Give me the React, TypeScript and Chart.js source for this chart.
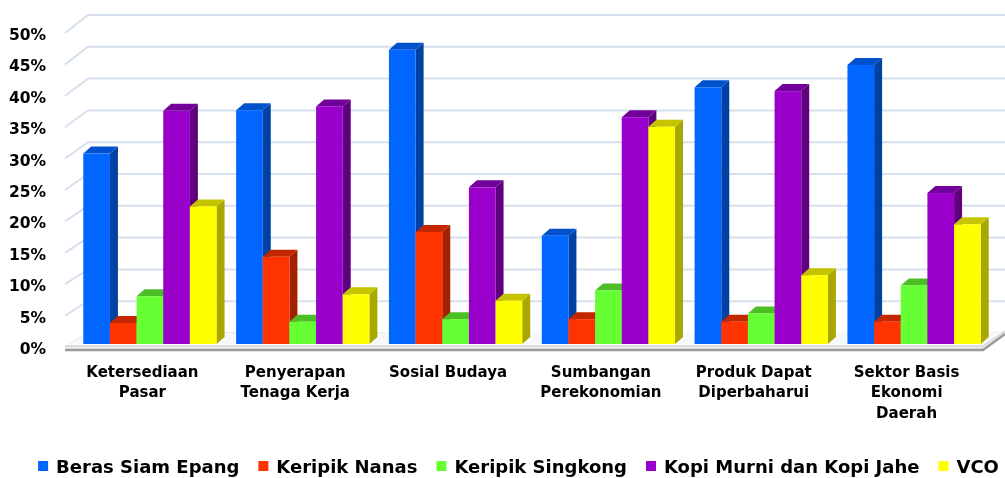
import React, { useEffect, useRef } from "react";
import { Chart, registerables } from "chart.js";

Chart.register(...registerables);

// ---------- data ----------
const categories: (string | string[])[] = [
  ["Ketersediaan", "Pasar"],
  ["Penyerapan", "Tenaga Kerja"],
  "Sosial Budaya",
  ["Sumbangan", "Perekonomian"],
  ["Produk Dapat", "Diperbaharui"],
  ["Sektor Basis", "Ekonomi", "Daerah"],
];

const seriesNames = [
  "Beras Siam Epang",
  "Keripik Nanas",
  "Keripik Singkong",
  "Kopi Murni dan Kopi Jahe",
  "VCO",
];

const berasSiamEpang = [29.9, 36.7, 46.2, 17.0, 40.3, 43.8];
const keripikNanas = [3.3, 13.7, 17.6, 3.9, 3.5, 3.5];
const keripikSingkong = [7.5, 3.5, 3.9, 8.4, 4.8, 9.2];
const kopiMurniJahe = [36.6, 37.3, 24.6, 35.6, 39.7, 23.7];
const vco = [21.6, 7.8, 6.8, 34.1, 10.8, 18.8];

const seriesValues = [berasSiamEpang, keripikNanas, keripikSingkong, kopiMurniJahe, vco];

const Y_MIN = 0;
const Y_MAX = 50;
const Y_STEP = 5;

// ---------- styles ----------
const FRONT = ["#0066FF", "#FF3300", "#66FF33", "#9900CC", "#FFFF00"];
const SIDE = ["#0041A3", "#A32000", "#42A621", "#5F007F", "#A8A800"];
const TOP = ["#0052CC", "#C22700", "#4DBF26", "#72009A", "#C4C400"];
const GRID_COLOR = "#d6e0ee";
const FONT_FAMILY = "'DejaVu Sans', sans-serif";

// 3D geometry (pixels / ratios)
const BAR_SHIFT_X = 7.5;
const BAR_BASE_DY = -6;
const BAR_SCALE = 1.0143;
const BAR_DEPTH_X = 8;
const BAR_DEPTH_Y = -7;
const WALL_DX = 22;
const WALL_DY = -17;
const WALL_SCALE = 1.0127;
const FRONT_END_DY = -3;

const threeDPlugin = {
  id: "threeD",
  beforeDatasetsDraw(chart: any) {
    const { ctx, chartArea: ca } = chart;
    const y = chart.scales.y;
    const bottom = y.getPixelForValue(Y_MIN);
    ctx.save();

    // back wall gridlines with left-side diagonals
    ctx.strokeStyle = GRID_COLOR;
    ctx.lineWidth = 2;
    for (let v = Y_MIN; v <= Y_MAX; v += Y_STEP) {
      const yp = y.getPixelForValue(v);
      const yf = yp + FRONT_END_DY;
      const yb = bottom + WALL_DY - (bottom - yp) * WALL_SCALE;
      ctx.beginPath();
      ctx.moveTo(ca.left - 1, yf);
      ctx.lineTo(ca.left - 1 + WALL_DX + 1, yb);
      ctx.lineTo(chart.width, yb);
      ctx.stroke();
    }

    // floor
    const fl = ca.left - 1;
    const fr = ca.right;
    const fTop = bottom - 4;
    const fBot = bottom;
    const backY = bottom + WALL_DY;
    ctx.fillStyle = "#f6f8fb";
    ctx.beginPath();
    ctx.moveTo(fl, fTop);
    ctx.lineTo(fr, fTop);
    ctx.lineTo(fr + WALL_DX, backY - 2);
    ctx.lineTo(fl + WALL_DX + 1, backY);
    ctx.closePath();
    ctx.fill();
    ctx.fillStyle = "#ececec";
    ctx.beginPath();
    ctx.moveTo(fl, fTop);
    ctx.lineTo(fr, fTop);
    ctx.lineTo(fr + WALL_DX, backY - 2);
    ctx.lineTo(fr + WALL_DX, backY + 2);
    ctx.lineTo(fr, fBot);
    ctx.lineTo(fl, fBot);
    ctx.closePath();
    ctx.fill();
    ctx.strokeStyle = "#c8c8c8";
    ctx.lineWidth = 1;
    ctx.beginPath();
    ctx.moveTo(fl, fTop);
    ctx.lineTo(fr, fTop);
    ctx.lineTo(fr + WALL_DX, backY - 2);
    ctx.stroke();
    ctx.strokeStyle = "#9a9a9a";
    ctx.lineWidth = 2.5;
    ctx.beginPath();
    ctx.moveTo(fl, fBot);
    ctx.lineTo(fr, fBot);
    ctx.lineTo(fr + WALL_DX, backY + 1);
    ctx.stroke();

    // bars
    const base = bottom + BAR_BASE_DY;
    chart.data.datasets.forEach((_ds: any, di: number) => {
      const meta = chart.getDatasetMeta(di);
      meta.data.forEach((el: any) => {
        const p = el.getProps(["x", "y", "width"], true);
        const left = p.x - p.width / 2 + BAR_SHIFT_X;
        const right = left + p.width;
        const top = base - (bottom - p.y) * BAR_SCALE;
        // side
        ctx.fillStyle = SIDE[di];
        ctx.beginPath();
        ctx.moveTo(right, base);
        ctx.lineTo(right, top);
        ctx.lineTo(right + BAR_DEPTH_X, top + BAR_DEPTH_Y);
        ctx.lineTo(right + BAR_DEPTH_X, base + BAR_DEPTH_Y);
        ctx.closePath();
        ctx.fill();
        // top
        ctx.fillStyle = TOP[di];
        ctx.beginPath();
        ctx.moveTo(left, top);
        ctx.lineTo(right, top);
        ctx.lineTo(right + BAR_DEPTH_X, top + BAR_DEPTH_Y);
        ctx.lineTo(left + BAR_DEPTH_X, top + BAR_DEPTH_Y);
        ctx.closePath();
        ctx.fill();
        // front
        ctx.fillStyle = FRONT[di];
        ctx.fillRect(left, top, right - left, base - top);
      });
    });
    ctx.restore();
    return false;
  },
};

const LEGEND_CENTER_X = 518.5;
const LEGEND_BASELINE = 473;
const LEGEND_BOX = 10;
const LEGEND_BOX_GAP = 8;
const LEGEND_ITEM_GAP = 19;

const legendPlugin = {
  id: "customLegend",
  afterDraw(chart: any) {
    const ctx = chart.ctx;
    ctx.save();
    ctx.font = `bold 18px ${FONT_FAMILY}`;
    ctx.textBaseline = "alphabetic";
    ctx.textAlign = "left";
    const items = chart.data.datasets.map((ds: any) => ({
      text: ds.label as string,
      color: ds.backgroundColor as string,
      w: ctx.measureText(ds.label).width,
    }));
    const total =
      items.reduce((s: number, it: any) => s + LEGEND_BOX + LEGEND_BOX_GAP + it.w, 0) +
      LEGEND_ITEM_GAP * (items.length - 1);
    let x = LEGEND_CENTER_X - total / 2;
    items.forEach((it: any) => {
      ctx.fillStyle = it.color;
      ctx.fillRect(x, LEGEND_BASELINE - 12, LEGEND_BOX, LEGEND_BOX);
      ctx.fillStyle = "#000";
      ctx.fillText(it.text, x + LEGEND_BOX + LEGEND_BOX_GAP, LEGEND_BASELINE);
      x += LEGEND_BOX + LEGEND_BOX_GAP + it.w + LEGEND_ITEM_GAP;
    });
    ctx.restore();
  },
};

export default function App() {
  const ref = useRef<HTMLCanvasElement | null>(null);
  useEffect(() => {
    if (!ref.current) return;
    const chart = new Chart(ref.current, {
      type: "bar",
      data: {
        labels: categories as any,
        datasets: seriesNames.map((name, i) => ({
          label: name,
          data: seriesValues[i],
          backgroundColor: FRONT[i],
          borderWidth: 0,
          barPercentage: 1,
          categoryPercentage: 0.872,
        })),
      },
      options: {
        responsive: false,
        animation: false,
        layout: { padding: { left: 0, right: 22, top: 36, bottom: 0 } },
        plugins: { legend: { display: false }, tooltip: { enabled: false } },
        scales: {
          x: {
            grid: { display: false, drawTicks: false },
            border: { display: false },
            ticks: {
              color: "#000",
              font: { family: FONT_FAMILY, weight: "bold", size: 15, lineHeight: 1.36 },
              padding: 13,
              maxRotation: 0,
              autoSkip: false,
            },
            afterFit: (s: any) => {
              s.height = 128;
            },
          },
          y: {
            min: Y_MIN,
            max: Y_MAX,
            grid: { display: false, drawTicks: false },
            border: { display: false },
            ticks: {
              stepSize: Y_STEP,
              padding: 20,
              color: "#000",
              font: { family: FONT_FAMILY, weight: "bold", size: 15.5 },
              callback: (v: any) => v + "%",
            },
            afterFit: (s: any) => {
              s.width = 66;
            },
          },
        },
      } as any,
      plugins: [threeDPlugin, legendPlugin],
    });
    return () => chart.destroy();
  }, []);
  return (
    <div style={{ position: "absolute", left: 0, top: 0, width: 1005, height: 478, background: "#fff" }}>
      <canvas ref={ref} width={1005} height={478} />
    </div>
  );
}
